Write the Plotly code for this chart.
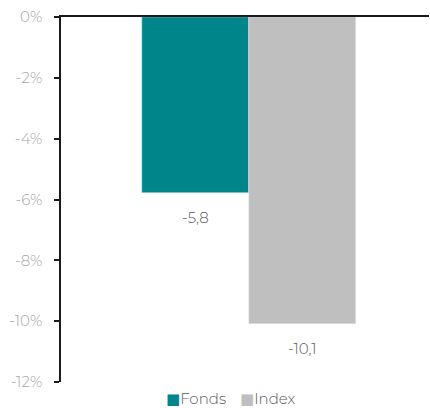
import plotly.graph_objects as go

series_names = ["Fonds", "Index"]
series_values = [-5.8, -10.1]
value_labels = ["-5,8", "-10,1"]
tick_values = [0, -2, -4, -6, -8, -10, -12]
tick_labels = ["0%", "-2%", "-4%", "-6%", "-8%", "-10%", "-12%"]

colors = ["#00868A", "#BFBFBF"]
font_family = "Montserrat, Lato, 'Open Sans', sans-serif"
legend_x = [0.282, 0.485]

fig = go.Figure()
for name, val, col in zip(series_names, series_values, colors):
    fig.add_trace(go.Bar(x=[name], y=[val], name=name, marker_color=col,
                         showlegend=False))

annotations = []
for name, val, lab in zip(series_names, series_values, value_labels):
    annotations.append(dict(x=name, y=val, xref="x", yref="y", text=lab,
                            showarrow=False, yanchor="top", yshift=-13,
                            font=dict(color="#595959", size=15, family=font_family, weight=300)))
for name, col, lx in zip(series_names, colors, legend_x):
    annotations.append(dict(
        x=lx, y=-0.045, xref="paper", yref="paper", xanchor="left", yanchor="middle",
        showarrow=False, borderpad=0,
        text=f'<span style="color:{col};font-family:DejaVu Sans;font-size:15px;font-weight:400">■</span>{name}',
        font=dict(color="#595959", size=15, family=font_family, weight=300)))

fig.update_layout(
    width=430, height=408,
    margin=dict(l=61, r=1, t=17, b=26, autoexpand=False),
    paper_bgcolor="white", plot_bgcolor="white",
    barmode="overlay", bargap=0,
    showlegend=False,
    annotations=annotations,
    xaxis=dict(side="top", showline=True, linecolor="#1a1a1a", linewidth=2,
               showticklabels=False, ticks="", showgrid=False, zeroline=False,
               range=[-1.251, 2.182]),
    yaxis=dict(range=[-12, 0], tickvals=tick_values, ticktext=tick_labels,
               showline=True, linecolor="#1a1a1a", linewidth=1.5,
               ticks="outside", ticklen=5, tickcolor="#1a1a1a", tickwidth=1.5,
               ticklabelstandoff=9,
               showgrid=False, zeroline=False,
               tickfont=dict(color="#A6A6A6", size=15, family=font_family, weight=300)),
    font=dict(family=font_family),
)

fig.write_html("out.html")
